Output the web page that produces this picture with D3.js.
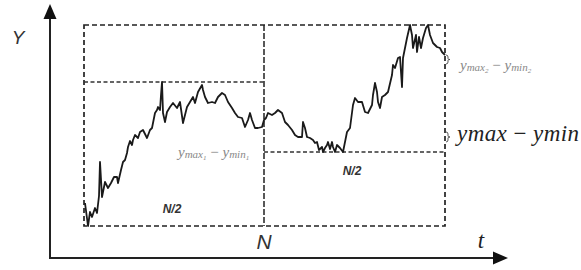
<!DOCTYPE html>
<html><head><meta charset="utf-8">
<script src="https://cdn.jsdelivr.net/npm/d3@7"></script>
<style>html,body{margin:0;padding:0;background:#fff;}svg{display:block;}</style>
</head><body>
<svg id="c" width="581" height="270"></svg>
<script>
const tValues = [1,4,6,8,11,13,15,16,18,21,24,27,30,33,34,37,39,41,43,44,46,48,49,51,54,56,59,63,66,68,71,73,74,76,77,78,79,81,83,86,89,93,96,99,103,106,109,111,114,118,119,121,124,128,131,134,138,141,144,148,151,154,158,161,164,166,168,171,174,178,180,182,184,188,191,194,198,201,204,208,211,214,218,219,221,223,226,229,231,233,235,238,239,241,243,244,246,248,249,251,253,256,259,261,263,266,269,271,274,278,281,284,288,289,291,293,294,296,298,301,304,308,309,311,314,316,318,319,321,323,326,328,329,332,333,335,337,339,342,344,346,349,353,356,358,361];
const yValues = [23,0,14,9,18,13,30,64,29,44,38,43,49,49,43,56,64,66,73,79,85,81,86,91,88,94,96,88,96,98,113,116,119,116,131,144,113,104,114,119,123,118,124,103,119,124,129,123,134,141,136,129,123,124,123,129,133,131,124,118,113,109,108,99,106,113,106,98,98,99,106,108,113,111,113,116,113,104,101,96,91,89,89,104,98,89,88,86,83,84,76,79,74,78,81,84,77,84,79,74,81,78,74,84,94,98,121,128,124,124,114,113,121,131,143,134,124,118,129,131,134,151,161,158,168,169,139,168,178,188,201,191,178,191,174,189,178,188,198,201,191,183,179,178,174,171];
const tDomain = [0, 361];
const yDomain = [0, 201];
const labels = {y: "Y", t: "t", n: "N", half: "N/2"};

const svg = d3.select("#c");
const x = d3.scaleLinear().domain(tDomain).range([84, 445]);
const y = d3.scaleLinear().domain(yDomain).range([226, 25]);

const N = tDomain[1], half = 180;
const pts = tValues.map((t, i) => ({t, v: yValues[i]}));
const first = pts.filter(p => p.t <= half), second = pts.filter(p => p.t >= half);
const yMax = d3.max(yValues), yMin = d3.min(yValues);
const max1 = d3.max(first, p => p.v), min1 = d3.min(first, p => p.v);
const max2 = d3.max(second, p => p.v), min2 = d3.min(second, p => p.v);

// axes with arrows
svg.append("line").attr("x1", 50).attr("x2", 50).attr("y1", 259).attr("y2", 16)
  .attr("stroke", "#222").attr("stroke-width", 2);
svg.append("path").attr("d", "M50,4 L43.5,19 L56.5,19 Z").attr("fill", "#111");
svg.append("line").attr("x1", 49).attr("x2", 496).attr("y1", 258).attr("y2", 258)
  .attr("stroke", "#222").attr("stroke-width", 2.2);
svg.append("path").attr("d", "M508,258 L493,251.5 L493,264.5 Z").attr("fill", "#111");

// dashed boxes
const g = svg.append("g").attr("fill", "none").attr("stroke", "#222");
g.append("rect").attr("x", x(0)).attr("y", y(yMax)).attr("width", x(N) - x(0)).attr("height", y(yMin) - y(yMax))
  .attr("stroke-width", 1.7).attr("stroke-dasharray", "5,3");
g.append("line").attr("x1", x(half)).attr("x2", x(half)).attr("y1", y(yMax)).attr("y2", y(yMin))
  .attr("stroke-width", 1.5).attr("stroke-dasharray", "6,2");
g.append("line").attr("x1", x(0)).attr("x2", x(half)).attr("y1", y(max1)).attr("y2", y(max1))
  .attr("stroke", "#333").attr("stroke-width", 1.3).attr("stroke-dasharray", "4,2.5");
g.append("line").attr("x1", x(half)).attr("x2", x(N)).attr("y1", y(min2)).attr("y2", y(min2))
  .attr("stroke", "#333").attr("stroke-width", 1.3).attr("stroke-dasharray", "4,2.5");

// series line
const line = d3.line().x(p => x(p.t)).y(p => y(p.v));
svg.append("path").datum(pts).attr("d", line).attr("fill", "none")
  .attr("stroke", "#1a1a1a").attr("stroke-width", 1.8).attr("stroke-linejoin", "round");

// small brace marks on right edge
[[55, 64], [132, 142]].forEach(([a, b]) => {
  const xx = x(N) + 1, m = (a + b) / 2;
  svg.append("path").attr("d", `M${xx},${a} q2,0 2,2 v${m - a - 3} q0,1 2,1 q-2,0 -2,1 v${b - m - 3} q0,2 -2,2`)
    .attr("fill", "none").attr("stroke", "#444").attr("stroke-width", 0.9);
});

// labels
svg.append("text").attr("x", 18).attr("y", 44).attr("text-anchor", "middle")
  .attr("font-family", "Liberation Sans, Arial, sans-serif").attr("font-style", "italic")
  .attr("font-size", 19).attr("fill", "#333").text(labels.y);
svg.append("text").attr("x", x(half)).attr("y", 249).attr("text-anchor", "middle")
  .attr("font-family", "Liberation Sans, Arial, sans-serif").attr("font-style", "italic")
  .attr("font-size", 21).attr("fill", "#333").text(labels.n);
svg.append("text").attr("x", 481).attr("y", 248).attr("text-anchor", "middle")
  .attr("font-family", "Liberation Serif, serif").attr("font-style", "italic")
  .attr("font-size", 23).attr("fill", "#222").text(labels.t);
svg.append("text").attr("x", x(half / 2) - 2).attr("y", 213).attr("text-anchor", "middle")
  .attr("font-family", "Liberation Sans, Arial, sans-serif").attr("font-style", "italic").attr("font-weight", "bold")
  .attr("font-size", 12).attr("fill", "#333").text(labels.half);
svg.append("text").attr("x", x(half + half / 2) - 2).attr("y", 175).attr("text-anchor", "middle")
  .attr("font-family", "Liberation Sans, Arial, sans-serif").attr("font-style", "italic").attr("font-weight", "bold")
  .attr("font-size", 12).attr("fill", "#333").text(labels.half);

// big formula
const big = svg.append("text").attr("x", 457).attr("y", 141)
  .attr("font-family", "Liberation Serif, serif").attr("font-style", "italic")
  .attr("font-size", 23).attr("fill", "#222")
  .attr("textLength", 122).attr("lengthAdjust", "spacing");
big.append("tspan").text("ymax");
big.append("tspan").attr("font-style", "normal").text(" − ");
big.append("tspan").text("ymin");

// small gray formulas
function subFormula(px, py, idx) {
  const t = svg.append("text").attr("x", px).attr("y", py)
    .attr("font-family", "Liberation Serif, serif").attr("font-style", "italic").attr("fill", "#888");
  t.append("tspan").attr("font-size", 15).text("y");
  t.append("tspan").attr("font-size", 11).attr("dy", 1).text("max");
  t.append("tspan").attr("font-size", 7).attr("dy", 1.5).text(idx);
  t.append("tspan").attr("font-size", 15).attr("dy", -2.5).attr("font-style", "normal").text(" − ");
  t.append("tspan").attr("font-size", 15).text("y");
  t.append("tspan").attr("font-size", 11).attr("dy", 1).text("min");
  t.append("tspan").attr("font-size", 7).attr("dy", 1.5).text(idx);
}
subFormula(178, 157, "1");
subFormula(460, 70, "2");
</script>
</body></html>
